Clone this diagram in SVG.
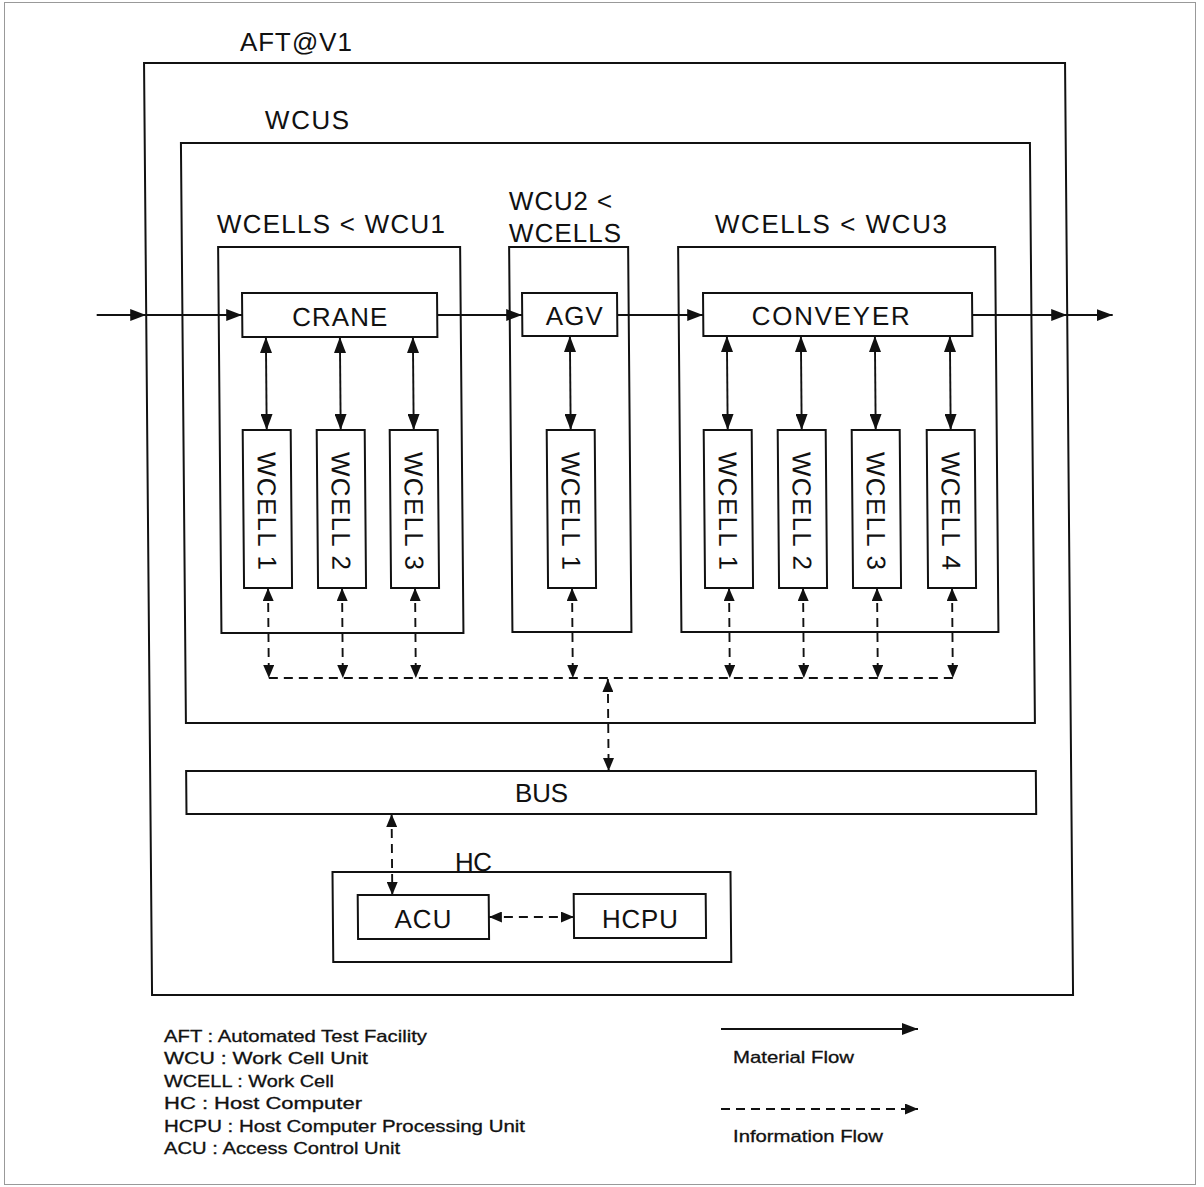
<svg xmlns="http://www.w3.org/2000/svg" width="1204" height="1187" viewBox="0 0 1204 1187">
<style>
.box{fill:none;stroke:#111;stroke-width:2}
.nbox{fill:#fff;stroke:#111;stroke-width:2}
.lbl{font-family:"Liberation Sans",Arial,sans-serif;font-size:26px;fill:#111}
.ctr{text-anchor:middle}
.leg{font-family:"Liberation Sans",Arial,sans-serif;font-size:16.5px;fill:#111;stroke:#111;stroke-width:0.3}
.mf{fill:none;stroke:#111;stroke-width:1.9}
.if{fill:none;stroke:#111;stroke-width:1.9;stroke-dasharray:9 6}
</style>
<defs>
<marker id="ma" viewBox="0 0 16 12" refX="16" refY="6" markerWidth="16" markerHeight="12" markerUnits="userSpaceOnUse" orient="auto-start-reverse"><path d="M0,0 L16,6 L0,12 z" fill="#111"/></marker>
<marker id="ia" viewBox="0 0 13 11" refX="13" refY="5.5" markerWidth="13" markerHeight="11" markerUnits="userSpaceOnUse" orient="auto-start-reverse"><path d="M0,0 L13,5.5 L0,11 z" fill="#111"/></marker>
</defs>
<rect x="4.5" y="2.5" width="1191" height="1182" fill="#fff" stroke="#999" stroke-width="1"/>
<g transform="matrix(1 0 0.0086 1 0 0)">
  <g id="aft"><rect class="box" x="143.5" y="63" width="921" height="932"/><text class="lbl" x="239.6" y="51" textLength="112" lengthAdjust="spacing">AFT@V1</text></g>
  <g id="wcus"><rect class="box" x="179.7" y="143" width="849" height="580"/><text class="lbl" x="264" y="129" textLength="84" lengthAdjust="spacing">WCUS</text></g>
  <g id="wcu1"><rect class="box" x="216" y="247" width="242" height="386"/><text class="lbl" x="215" y="233" textLength="228" lengthAdjust="spacing">WCELLS &lt; WCU1</text></g>
  <g id="wcu2"><rect class="box" x="507" y="247" width="119" height="385"/><text class="lbl" x="507.3" y="210" textLength="103" lengthAdjust="spacing">WCU2 &lt;</text><text class="lbl" x="507" y="242" textLength="112" lengthAdjust="spacing">WCELLS</text></g>
  <g id="wcu3"><rect class="box" x="676" y="247" width="317" height="385"/><text class="lbl" x="713" y="233" textLength="232" lengthAdjust="spacing">WCELLS &lt; WCU3</text></g>

  <g id="connectors">
    <line class="mf" x1="94" y1="315" x2="143.5" y2="315" marker-end="url(#ma)"/>
    <line class="mf" x1="143.5" y1="315" x2="239.5" y2="315" marker-end="url(#ma)"/>
    <line class="mf" x1="434.5" y1="315" x2="519.5" y2="315" marker-end="url(#ma)"/>
    <line class="mf" x1="614.5" y1="315" x2="700.5" y2="315" marker-end="url(#ma)"/>
    <line class="mf" x1="969.5" y1="315" x2="1064.5" y2="315" marker-end="url(#ma)"/>
    <line class="mf" x1="1064.5" y1="315" x2="1110" y2="315" marker-end="url(#ma)"/>
    <line class="mf" x1="263" y1="337" x2="263" y2="430" marker-start="url(#ma)" marker-end="url(#ma)"/>
    <line class="mf" x1="337" y1="337" x2="337" y2="430" marker-start="url(#ma)" marker-end="url(#ma)"/>
    <line class="mf" x1="410" y1="337" x2="410" y2="430" marker-start="url(#ma)" marker-end="url(#ma)"/>
    <line class="mf" x1="567" y1="336" x2="567" y2="430" marker-start="url(#ma)" marker-end="url(#ma)"/>
    <line class="mf" x1="724" y1="336" x2="724" y2="430" marker-start="url(#ma)" marker-end="url(#ma)"/>
    <line class="mf" x1="798" y1="336" x2="798" y2="430" marker-start="url(#ma)" marker-end="url(#ma)"/>
    <line class="mf" x1="872" y1="336" x2="872" y2="430" marker-start="url(#ma)" marker-end="url(#ma)"/>
    <line class="mf" x1="947" y1="336" x2="947" y2="430" marker-start="url(#ma)" marker-end="url(#ma)"/>
    <line class="if" x1="263" y1="588" x2="263" y2="678" marker-start="url(#ia)" marker-end="url(#ia)"/>
    <line class="if" x1="337" y1="588" x2="337" y2="678" marker-start="url(#ia)" marker-end="url(#ia)"/>
    <line class="if" x1="410" y1="588" x2="410" y2="678" marker-start="url(#ia)" marker-end="url(#ia)"/>
    <line class="if" x1="567" y1="588" x2="567" y2="678" marker-start="url(#ia)" marker-end="url(#ia)"/>
    <line class="if" x1="724" y1="588" x2="724" y2="678" marker-start="url(#ia)" marker-end="url(#ia)"/>
    <line class="if" x1="798" y1="588" x2="798" y2="678" marker-start="url(#ia)" marker-end="url(#ia)"/>
    <line class="if" x1="872" y1="588" x2="872" y2="678" marker-start="url(#ia)" marker-end="url(#ia)"/>
    <line class="if" x1="947" y1="588" x2="947" y2="678" marker-start="url(#ia)" marker-end="url(#ia)"/>
    <line class="if" x1="263" y1="678" x2="947" y2="678"/>
    <line class="if" x1="602" y1="679" x2="602" y2="771" marker-start="url(#ia)" marker-end="url(#ia)"/>
    <line class="if" x1="384.6" y1="814" x2="384.6" y2="895" marker-start="url(#ia)" marker-end="url(#ia)"/>
    <line class="if" x1="481" y1="917" x2="566" y2="917" marker-start="url(#ia)" marker-end="url(#ia)"/>
  </g>

  <g id="crane"><rect class="nbox" x="239.5" y="293" width="195" height="44"/><text class="lbl ctr" x="337" y="326" textLength="95" lengthAdjust="spacing">CRANE</text></g>
  <g id="agv"><rect class="nbox" x="519.5" y="293" width="95" height="43"/><text class="lbl ctr" x="571.5" y="325" textLength="57" lengthAdjust="spacing">AGV</text></g>
  <g id="conveyer"><rect class="nbox" x="700.5" y="293" width="269" height="43"/><text class="lbl ctr" x="828" y="325" textLength="158" lengthAdjust="spacing">CONVEYER</text></g>

  <g id="wcu1-wcell1"><rect class="nbox" x="239" y="430" width="48" height="158"/><text class="lbl ctr" transform="translate(253.5,511) rotate(90)" textLength="118" lengthAdjust="spacing">WCELL 1</text></g>
  <g id="wcu1-wcell2"><rect class="nbox" x="313" y="430" width="48" height="158"/><text class="lbl ctr" transform="translate(327.5,511) rotate(90)" textLength="118" lengthAdjust="spacing">WCELL 2</text></g>
  <g id="wcu1-wcell3"><rect class="nbox" x="386" y="430" width="48" height="158"/><text class="lbl ctr" transform="translate(400.5,511) rotate(90)" textLength="118" lengthAdjust="spacing">WCELL 3</text></g>
  <g id="wcu2-wcell1"><rect class="nbox" x="543" y="430" width="48" height="158"/><text class="lbl ctr" transform="translate(557.5,511) rotate(90)" textLength="118" lengthAdjust="spacing">WCELL 1</text></g>
  <g id="wcu3-wcell1"><rect class="nbox" x="700" y="430" width="48" height="158"/><text class="lbl ctr" transform="translate(714.5,511) rotate(90)" textLength="118" lengthAdjust="spacing">WCELL 1</text></g>
  <g id="wcu3-wcell2"><rect class="nbox" x="774" y="430" width="48" height="158"/><text class="lbl ctr" transform="translate(788.5,511) rotate(90)" textLength="118" lengthAdjust="spacing">WCELL 2</text></g>
  <g id="wcu3-wcell3"><rect class="nbox" x="848" y="430" width="48" height="158"/><text class="lbl ctr" transform="translate(862.5,511) rotate(90)" textLength="118" lengthAdjust="spacing">WCELL 3</text></g>
  <g id="wcu3-wcell4"><rect class="nbox" x="923" y="430" width="48" height="158"/><text class="lbl ctr" transform="translate(937.5,511) rotate(90)" textLength="118" lengthAdjust="spacing">WCELL 4</text></g>

  <g id="bus"><rect class="nbox" x="179.5" y="771" width="849.7" height="43"/><text class="lbl ctr" x="534.7" y="802" textLength="53" lengthAdjust="spacing">BUS</text></g>
  <g id="hc"><rect class="box" x="325" y="872" width="398" height="90"/><text class="lbl" x="447.6" y="871" textLength="37" lengthAdjust="spacing">HC</text></g>
  <g id="acu"><rect class="nbox" x="350" y="895" width="131" height="44"/><text class="lbl ctr" x="415" y="928" textLength="57" lengthAdjust="spacing">ACU</text></g>
  <g id="hcpu"><rect class="nbox" x="566" y="894" width="132" height="44"/><text class="lbl ctr" x="632" y="928" textLength="76" lengthAdjust="spacing">HCPU</text></g>
</g>

<g id="legend">
  <text class="leg" x="164" y="1042" textLength="263" lengthAdjust="spacingAndGlyphs">AFT : Automated Test Facility</text>
  <text class="leg" x="164" y="1064" textLength="204" lengthAdjust="spacingAndGlyphs">WCU : Work Cell Unit</text>
  <text class="leg" x="164" y="1087" textLength="170" lengthAdjust="spacingAndGlyphs">WCELL : Work Cell</text>
  <text class="leg" x="164" y="1109" textLength="198" lengthAdjust="spacingAndGlyphs">HC : Host Computer</text>
  <text class="leg" x="164" y="1132" textLength="361" lengthAdjust="spacingAndGlyphs">HCPU : Host Computer Processing Unit</text>
  <text class="leg" x="164" y="1154" textLength="236" lengthAdjust="spacingAndGlyphs">ACU : Access Control Unit</text>
  <line class="mf" x1="721" y1="1029" x2="918" y2="1029" marker-end="url(#ma)"/>
  <text class="leg" x="733" y="1063" textLength="121" lengthAdjust="spacingAndGlyphs">Material Flow</text>
  <line class="if" x1="721" y1="1109" x2="918" y2="1109" marker-end="url(#ia)"/>
  <text class="leg" x="733" y="1142" textLength="150" lengthAdjust="spacingAndGlyphs">Information Flow</text>
</g>
</svg>
